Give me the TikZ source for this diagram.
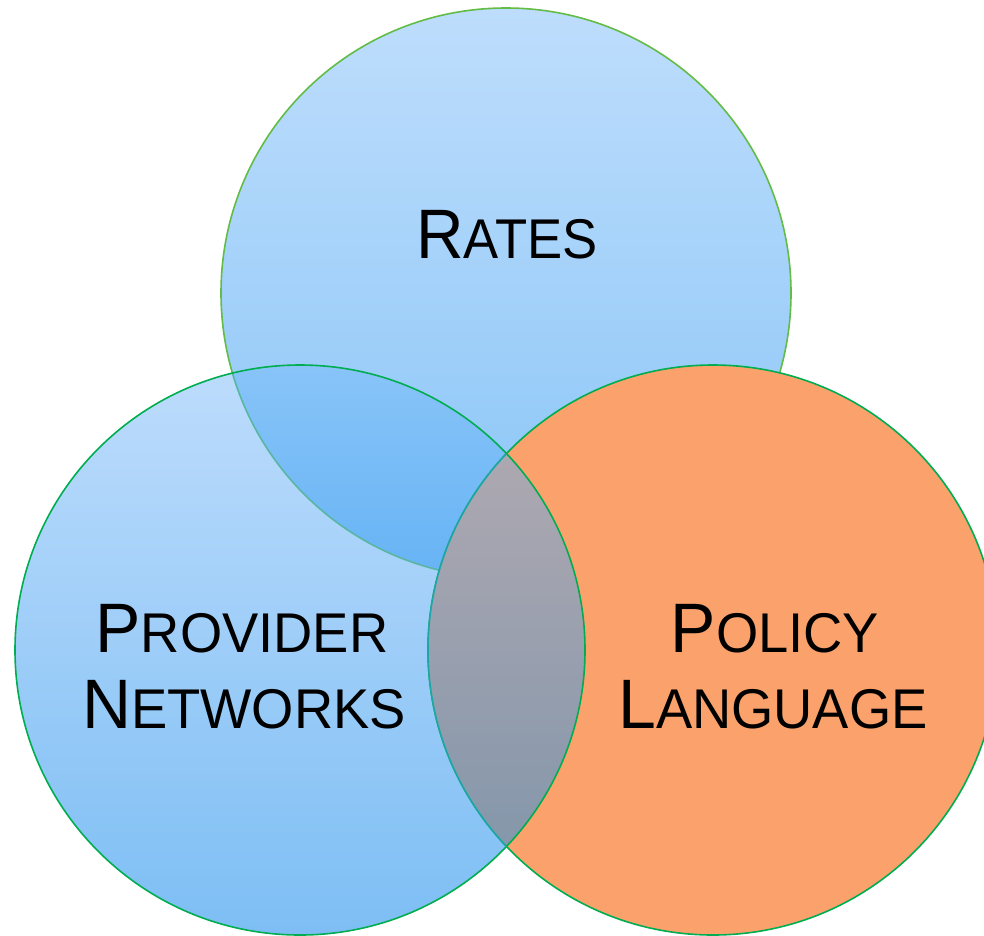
\documentclass[tikz,border=0pt]{standalone}
\usepackage{fontspec}
\setmainfont{Liberation Sans}

% palette
\definecolor{skyTop}{HTML}{BEDDFC}
\definecolor{skyTopBot}{HTML}{88C5F7}
\definecolor{skyLeftTop}{HTML}{BDDCFC}
\definecolor{skyLeftBot}{HTML}{7DBEF4}
\definecolor{skyDeepTop}{HTML}{88C4F8}
\definecolor{skyDeepBot}{HTML}{66B3F5}
\definecolor{slateTop}{HTML}{ADA8B1}
\definecolor{slateBot}{HTML}{8597AB}
\definecolor{apricot}{HTML}{FBA16C}
\definecolor{rimGreen}{HTML}{00AD50}
\definecolor{rimLight}{HTML}{62BC45}
\definecolor{rimFaded}{HTML}{58B6A2}
\definecolor{rimTeal}{HTML}{1CA6A6}

% two-size capitals: a full capital followed by reduced capitals
\newcommand\twocaps[2]{{\fontsize{70}{84}\selectfont #1}{\fontsize{56}{67}\selectfont #2}}
\newcommand\narrowcaps[2]{\scalebox{0.97}[1]{\twocaps{#1}{#2}}}

\begin{document}
\begin{tikzpicture}[x=1pt, y=-1pt,
  rim/.style={line width=1.6pt},
  vennlabel/.style={anchor=base, inner sep=0pt, text=black}]
\useasboundingbox (0,0) rectangle (984,935);

% upper disc (Rates)
\shade[top color=skyTop, bottom color=skyTopBot, draw=rimLight, rim]
  (506,293) circle[radius=285];

% lower left disc (Provider Networks)
\shade[top color=skyLeftTop, bottom color=skyLeftBot]
  (300,650) circle[radius=285];

% overlap of upper and lower left discs
\begin{scope}
  \clip (300,650) circle[radius=285];
  \clip (506,293) circle[radius=285];
  \shade[top color=skyDeepTop, bottom color=skyDeepBot] (0,364) rectangle (600,579);
\end{scope}
\begin{scope}
  \clip (300,650) circle[radius=285];
  \draw[rim, draw=rimFaded] (506,293) circle[radius=285];
\end{scope}
\draw[rim, draw=rimGreen] (300,650) circle[radius=285];

% lower right disc (Policy Language)
\filldraw[fill=apricot, draw=rimGreen, rim] (713,650) circle[radius=285];

% lens shared by the two lower discs
\begin{scope}
  \clip (300,650) circle[radius=285];
  \clip (713,650) circle[radius=285];
  \shade[top color=slateTop, bottom color=slateBot] (400,453) rectangle (620,847);
\end{scope}
\begin{scope}
  \clip (300,650) circle[radius=285];
  \draw[rim, draw=rimTeal] (713,650) circle[radius=285];
\end{scope}
\begin{scope}
  \clip (713,650) circle[radius=285];
  \draw[rim, draw=rimGreen] (300,650) circle[radius=285];
\end{scope}

% labels
\node[vennlabel] (rates) at (507,258) {\scalebox{0.94}[1]{\twocaps{R}{ATES}}};
\node[vennlabel] (provider) at (242,652) {\narrowcaps{P}{ROVIDER}};
\node[vennlabel] (networks) at (244,728) {\narrowcaps{N}{ETWORKS}};
\node[vennlabel] (policy) at (775,652) {\narrowcaps{P}{OLICY}};
\node[vennlabel] (language) at (773,728) {\narrowcaps{L}{ANGUAGE}};
\end{tikzpicture}
\end{document}
